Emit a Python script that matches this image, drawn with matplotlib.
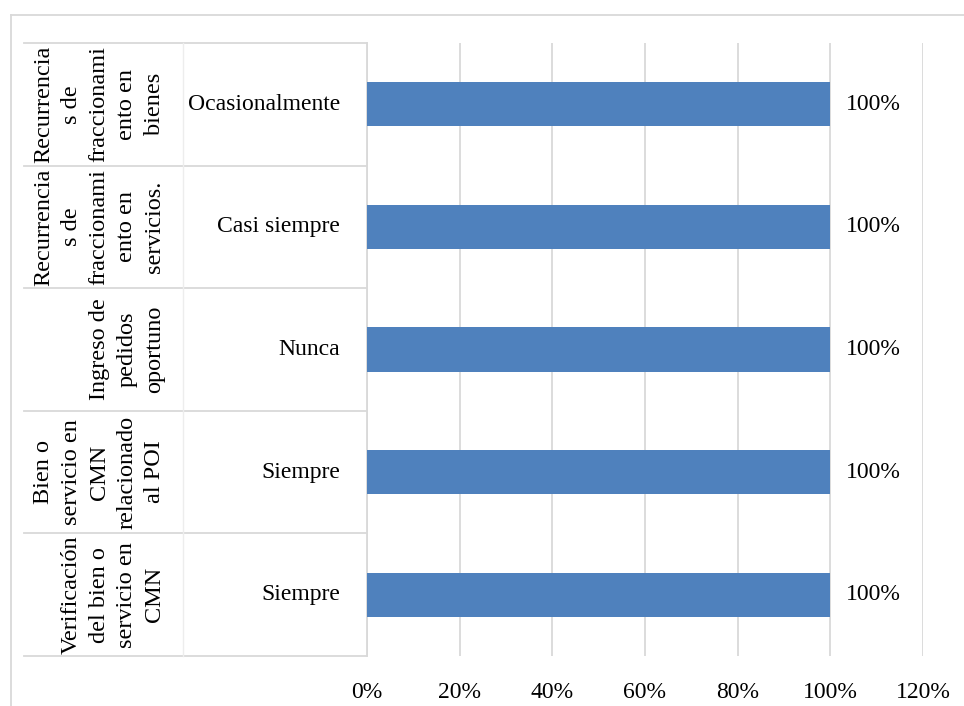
import matplotlib
matplotlib.use("Agg")
import matplotlib.pyplot as plt
from matplotlib.lines import Line2D
from matplotlib.ticker import FuncFormatter

# data, bottom row first (Excel order)
categories = [
    "Verificación\ndel bien o\nservicio en\nCMN",
    "Bien o\nservicio en\nCMN\nrelacionado\nal POI",
    "Ingreso de\npedidos\noportuno",
    "Recurrencia\ns de\nfraccionami\nento en\nservicios.",
    "Recurrencia\ns de\nfraccionami\nento en\nbienes",
]
answers = ["Siempre", "Siempre", "Nunca", "Casi siempre", "Ocasionalmente"]
values = [1.0, 1.0, 1.0, 1.0, 1.0]
xticks = [0, 0.2, 0.4, 0.6, 0.8, 1.0, 1.2]

W, H = 964, 706
plt.rcParams["font.family"] = ["Liberation Serif", "DejaVu Serif"]
plt.rcParams["font.size"] = 17

fig = plt.figure(figsize=(W / 100, H / 100), dpi=100)
ax_l, ax_r, ax_t, ax_b = 367, 923, 43, 656
ax = fig.add_axes([ax_l / W, 1 - ax_b / H, (ax_r - ax_l) / W, (ax_b - ax_t) / H])

grid_c = "#D9D9D9"
ypos = list(range(len(values)))
ax.barh(ypos, values, height=0.36, color="#4F81BD", zorder=3)
ax.set_xlim(0, 1.2)
ax.set_ylim(-0.5, len(values) - 0.5)
ax.set_xticks(xticks)
ax.xaxis.set_major_formatter(FuncFormatter(lambda v, p: f"{v*100:.0f}%"))
ax.tick_params(axis="x", length=0, pad=19, labelsize=17)
ax.set_yticks([])
ax.grid(axis="x", color=grid_c, linewidth=1.3, zorder=0)
for s in ["top", "right", "bottom"]:
    ax.spines[s].set_visible(False)
ax.spines["left"].set_color(grid_c)
ax.spines["left"].set_linewidth(1.3)

for y, v in zip(ypos, values):
    ax.annotate(f"{v*100:.0f}%", (v, y), xytext=(16, 0), textcoords="offset pixels",
                ha="left", va="center", fontsize=17)

# table on the left side, drawn in figure pixels
band = (ax_b - ax_t) / len(values)
for i in range(len(values) + 1):
    yy = 1 - (ax_t + i * band) / H
    fig.add_artist(Line2D([24 / W, ax_l / W], [yy, yy], color=grid_c, linewidth=1.3))
fig.add_artist(Line2D([183 / W, 183 / W], [1 - ax_t / H, 1 - ax_b / H],
                      color="#EDEDED", linewidth=1.0))

def ax_x(px):
    return (px - ax_l) / (ax_r - ax_l)

tr = ax.get_yaxis_transform()
for y, cat, ans in zip(ypos, categories, answers):
    ax.text(ax_x(340), y, ans, transform=tr, ha="right", va="center", fontsize=17)
    ax.text(ax_x(165), y, cat, transform=tr, ha="right", va="center", rotation=90,
            multialignment="center", fontsize=17.5, linespacing=1.42)

# outer border of the chart area
fig.add_artist(Line2D([10.5 / W, 10.5 / W], [0, 1 - 15 / H], color=grid_c, linewidth=1.3))
fig.add_artist(Line2D([10.5 / W, 1], [1 - 15 / H, 1 - 15 / H], color=grid_c, linewidth=1.3))

fig.savefig("out.png", dpi=100)
